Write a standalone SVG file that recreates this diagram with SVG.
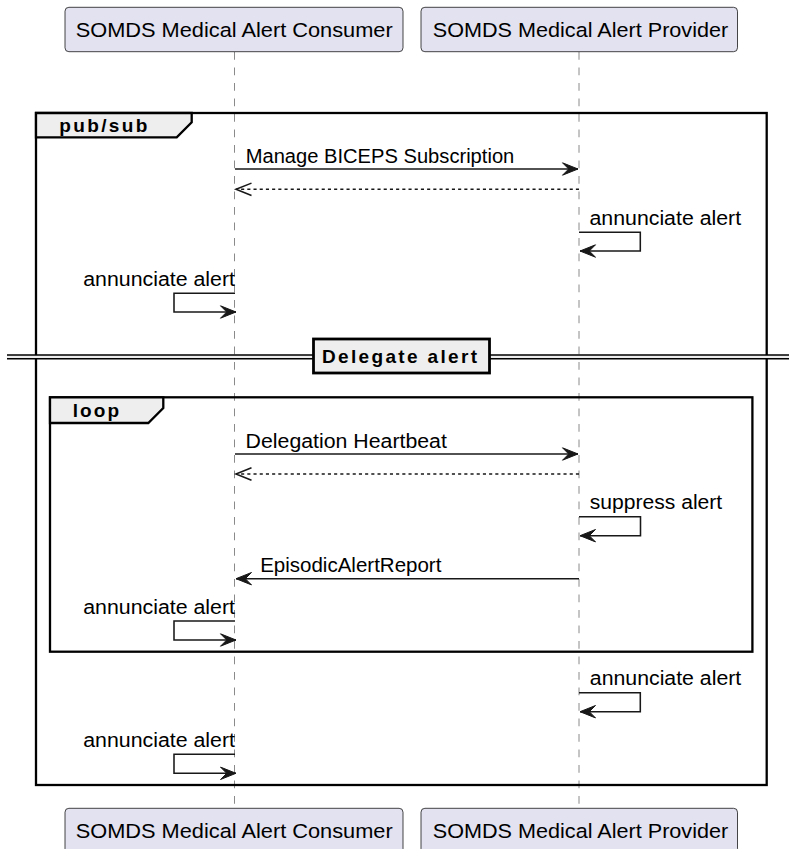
<svg xmlns="http://www.w3.org/2000/svg" width="789" height="849" viewBox="0 0 789 849">
<style>
.part{fill:#E2E2F0;stroke:#181818;stroke-width:0.8}
.ptxt{font-family:"Liberation Sans",Arial,sans-serif;font-size:20.5px;fill:#000}
.life{stroke:#8a8a8a;stroke-width:1;stroke-dasharray:7.75,7.75;fill:none}
.frame{fill:none;stroke:#000;stroke-width:2.3}
.tab{fill:#EEEEEE;stroke:#000;stroke-width:2.3}
.ftxt{font-family:"Liberation Sans",Arial,sans-serif;font-size:19px;font-weight:bold;fill:#000}
.msg{stroke:#181818;stroke-width:1.55;fill:none}
.ret{stroke:#181818;stroke-width:1.55;fill:none;stroke-dasharray:3.1,3.1}
.mtxt{font-family:"Liberation Sans",Arial,sans-serif;font-size:19.5px;fill:#000}
</style>
<defs>
<marker id="fill" markerUnits="userSpaceOnUse" markerWidth="17" markerHeight="14" refX="15.5" refY="6.2" orient="auto" overflow="visible">
<path d="M0,0 L15.5,6.2 L0,12.4 L6.2,6.2 Z" fill="#181818" stroke="#181818" stroke-width="1"/>
</marker>
<marker id="open" markerUnits="userSpaceOnUse" markerWidth="17" markerHeight="14" refX="15.5" refY="6.2" orient="auto" overflow="visible">
<path d="M0,0 L15.5,6.2 L0,12.4" fill="none" stroke="#181818" stroke-width="1.55"/>
</marker>
</defs>
<rect width="789" height="849" fill="#fff"/>
<g id="lifelines">
<line class="life" x1="234.5" y1="52" x2="234.5" y2="808"/>
<line class="life" x1="579" y1="52" x2="579" y2="808"/>
</g>
<g id="consumer-top">
<rect class="part" x="65" y="7.3" width="338" height="44.4" rx="3.9"/>
<text class="ptxt" x="75.7" y="36.7" textLength="317" lengthAdjust="spacingAndGlyphs">SOMDS Medical Alert Consumer</text>
</g>
<g id="provider-top">
<rect class="part" x="421" y="7.3" width="316.5" height="44.4" rx="3.9"/>
<text class="ptxt" x="432.8" y="36.7" textLength="295.4" lengthAdjust="spacingAndGlyphs">SOMDS Medical Alert Provider</text>
</g>
<g id="consumer-bottom">
<rect class="part" x="65" y="808.3" width="338" height="44.4" rx="3.9"/>
<text class="ptxt" x="75.7" y="837.7" textLength="317" lengthAdjust="spacingAndGlyphs">SOMDS Medical Alert Consumer</text>
</g>
<g id="provider-bottom">
<rect class="part" x="421" y="808.3" width="316.5" height="44.4" rx="3.9"/>
<text class="ptxt" x="432.8" y="837.7" textLength="295.4" lengthAdjust="spacingAndGlyphs">SOMDS Medical Alert Provider</text>
</g>
<g id="frame-pubsub">
<rect class="frame" x="36" y="113" width="730.7" height="672"/>
<path class="tab" d="M36,113 L191.7,113 L191.7,122.3 L176.7,137.3 L36,137.3 Z"/>
<text class="ftxt" x="59.3" y="131.5" textLength="88" lengthAdjust="spacing">pub/sub</text>
</g>
<g id="divider-delegate">
<rect x="7" y="355" width="782" height="3.7" fill="#EEEEEE"/>
<line x1="7" y1="355" x2="789" y2="355" stroke="#000" stroke-width="1.55"/>
<line x1="7" y1="358.7" x2="789" y2="358.7" stroke="#000" stroke-width="1.55"/>
<rect x="313.5" y="339" width="176" height="34" fill="#EEEEEE" stroke="#000" stroke-width="2.8"/>
<text class="ftxt" x="322" y="363" textLength="155" lengthAdjust="spacing">Delegate alert</text>
</g>
<g id="frame-loop">
<rect class="frame" x="50" y="397.3" width="702.4" height="254.4"/>
<path class="tab" d="M50,397.3 L163.3,397.3 L163.3,408 L148.3,423 L50,423 Z"/>
<text class="ftxt" x="72.7" y="417" textLength="46.3" lengthAdjust="spacing">loop</text>
</g>
<g id="connectors">
<line class="msg" x1="235" y1="169" x2="578" y2="169" marker-end="url(#fill)"/>
<text class="mtxt" x="245.7" y="162.5" textLength="268.6" lengthAdjust="spacingAndGlyphs">Manage BICEPS Subscription</text>
<line class="ret" x1="579" y1="189.3" x2="236" y2="189.3" marker-end="url(#open)"/>
<polyline class="msg" points="579,232.3 640.3,232.3 640.3,251 580,251" marker-end="url(#fill)"/>
<text class="mtxt" x="589.5" y="225" textLength="151.6" lengthAdjust="spacingAndGlyphs">annunciate alert</text>
<polyline class="msg" points="235,293.3 174,293.3 174,312 236,312" marker-end="url(#fill)"/>
<text class="mtxt" x="83.2" y="286" textLength="151.8" lengthAdjust="spacingAndGlyphs">annunciate alert</text>
<line class="msg" x1="235" y1="454" x2="578" y2="454" marker-end="url(#fill)"/>
<text class="mtxt" x="245.6" y="447.5" textLength="201.3" lengthAdjust="spacingAndGlyphs">Delegation Heartbeat</text>
<line class="ret" x1="579" y1="474" x2="236" y2="474" marker-end="url(#open)"/>
<polyline class="msg" points="579,516.7 640.5,516.7 640.5,535.7 580,535.7" marker-end="url(#fill)"/>
<text class="mtxt" x="589.8" y="509.4" textLength="132.4" lengthAdjust="spacingAndGlyphs">suppress alert</text>
<line class="msg" x1="579" y1="578.7" x2="236" y2="578.7" marker-end="url(#fill)"/>
<text class="mtxt" x="260.2" y="572.2" textLength="181.2" lengthAdjust="spacingAndGlyphs">EpisodicAlertReport</text>
<polyline class="msg" points="235,621 174,621 174,640 236,640" marker-end="url(#fill)"/>
<text class="mtxt" x="83.2" y="613.7" textLength="151.8" lengthAdjust="spacingAndGlyphs">annunciate alert</text>
<polyline class="msg" points="579,692.7 640.3,692.7 640.3,711.7 580,711.7" marker-end="url(#fill)"/>
<text class="mtxt" x="589.8" y="685.4" textLength="151.5" lengthAdjust="spacingAndGlyphs">annunciate alert</text>
<polyline class="msg" points="235,754.3 174,754.3 174,773.3 236,773.3" marker-end="url(#fill)"/>
<text class="mtxt" x="83.2" y="747" textLength="151.8" lengthAdjust="spacingAndGlyphs">annunciate alert</text>
</g>
</svg>
